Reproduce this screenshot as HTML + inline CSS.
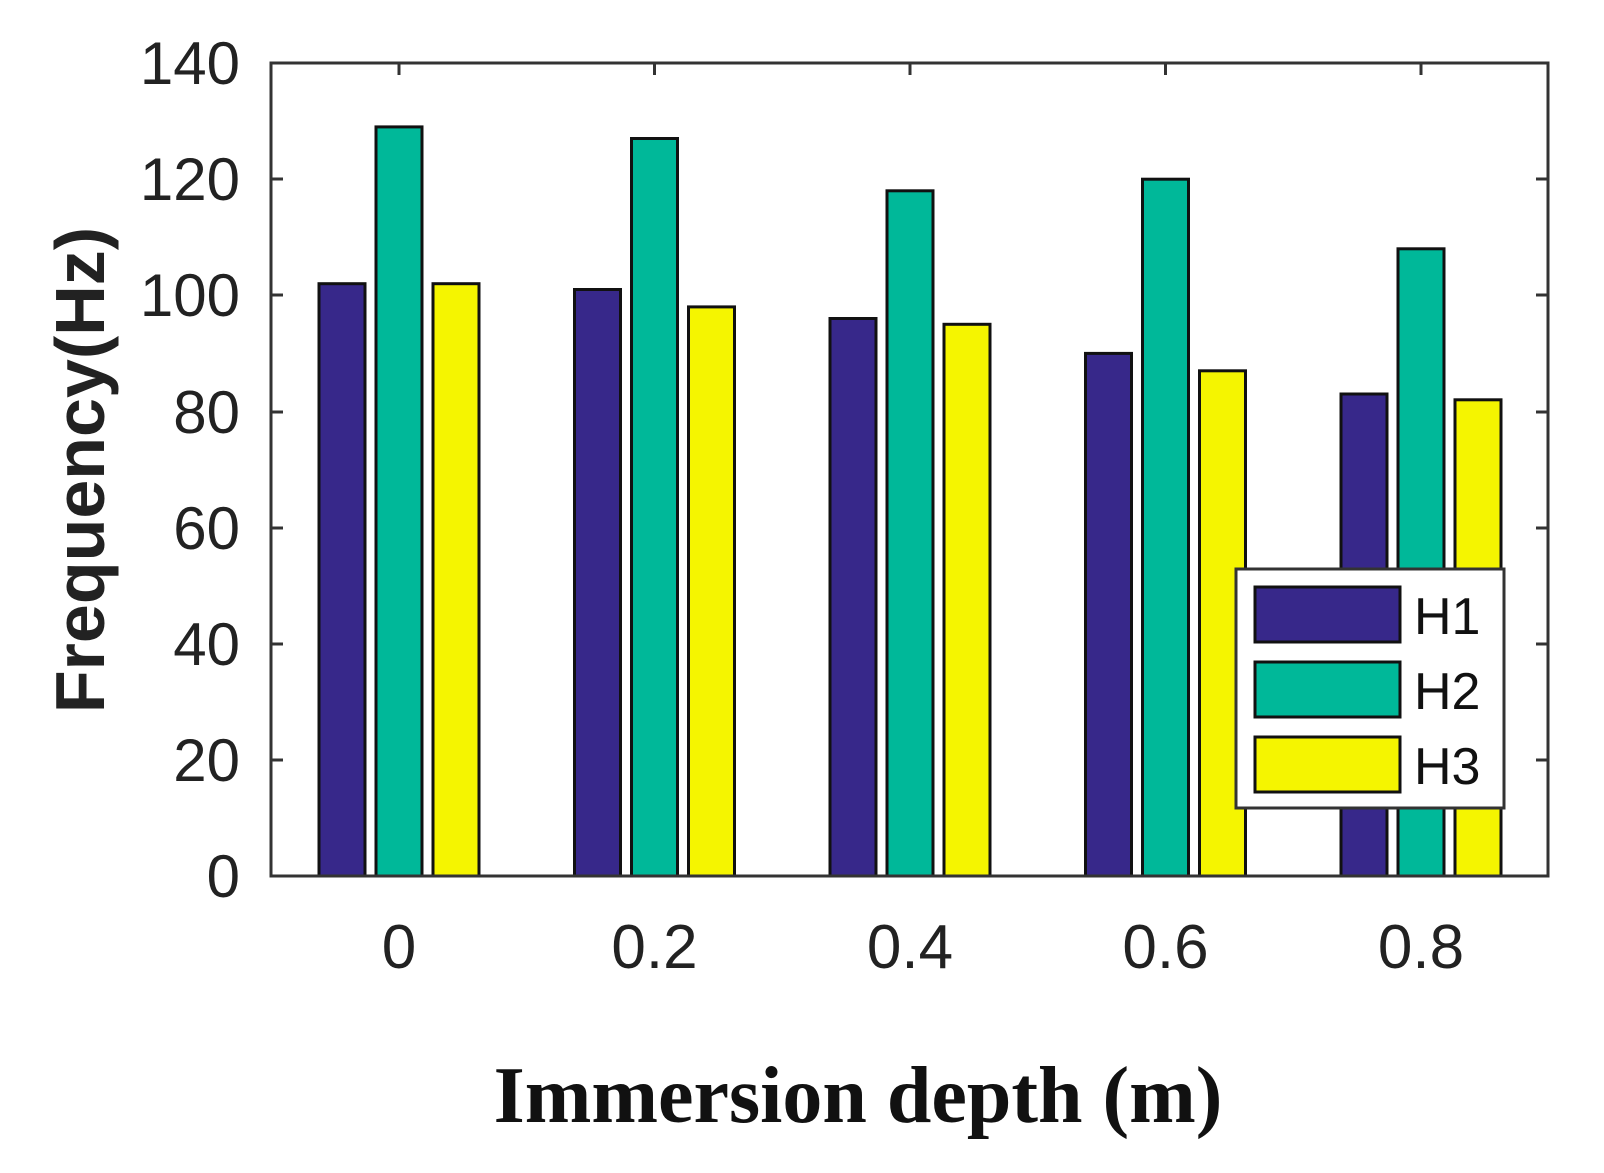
<!DOCTYPE html>
<html><head><style>body{margin:0;background:#fff}</style></head><body>
<svg width="1604" height="1168" xmlns="http://www.w3.org/2000/svg">
<rect width="1604" height="1168" fill="#fff"/>
<g stroke="#111" stroke-width="3">
<rect x="319" y="283.7" width="46" height="592.3" fill="#37288a"/>
<rect x="376" y="126.9" width="46" height="749.1" fill="#00b899"/>
<rect x="433" y="283.7" width="46" height="592.3" fill="#f5f500"/>
<rect x="574.5" y="289.5" width="46" height="586.5" fill="#37288a"/>
<rect x="631.5" y="138.5" width="46" height="737.5" fill="#00b899"/>
<rect x="688.5" y="306.9" width="46" height="569.1" fill="#f5f500"/>
<rect x="830" y="318.5" width="46" height="557.5" fill="#37288a"/>
<rect x="887" y="190.8" width="46" height="685.2" fill="#00b899"/>
<rect x="944" y="324.3" width="46" height="551.7" fill="#f5f500"/>
<rect x="1085.5" y="353.4" width="46" height="522.6" fill="#37288a"/>
<rect x="1142.5" y="179.2" width="46" height="696.8" fill="#00b899"/>
<rect x="1199.5" y="370.8" width="46" height="505.2" fill="#f5f500"/>
<rect x="1341" y="394" width="46" height="482" fill="#37288a"/>
<rect x="1398" y="248.8" width="46" height="627.2" fill="#00b899"/>
<rect x="1455" y="399.8" width="46" height="476.2" fill="#f5f500"/>
</g>
<g stroke="#333" stroke-width="3" fill="none">
<rect x="271" y="63" width="1277" height="813"/>
<path d="M271 760h12M271 644h12M271 528h12M271 412h12M271 295h12M271 179h12M1548 760h-12M1548 644h-12M1548 528h-12M1548 412h-12M1548 295h-12M1548 179h-12M399 63v12M654.5 63v12M910 63v12M1165.5 63v12M1421 63v12"/>
</g>
<g font-family="Liberation Sans, sans-serif" font-size="60" fill="#222" text-anchor="end">
<text x="240" y="897">0</text><text x="240" y="781">20</text><text x="240" y="665">40</text><text x="240" y="549">60</text><text x="240" y="433">80</text><text x="240" y="316">100</text><text x="240" y="200">120</text><text x="240" y="84">140</text>
</g>
<g font-family="Liberation Sans, sans-serif" font-size="62" fill="#222" text-anchor="middle">
<text x="399" y="968">0</text><text x="654.5" y="968">0.2</text><text x="910" y="968">0.4</text><text x="1165.5" y="968">0.6</text><text x="1421" y="968">0.8</text>
</g>
<text transform="translate(104,470) rotate(-90)" font-family="Liberation Sans, sans-serif" font-weight="bold" font-size="70" text-anchor="middle" fill="#222">Frequency(Hz)</text>
<text x="858" y="1122" font-family="Liberation Serif, serif" font-weight="bold" font-size="80" text-anchor="middle" fill="#111">Immersion depth (m)</text>
<rect x="1236" y="569" width="268" height="239" fill="#fff" stroke="#333" stroke-width="3"/>
<g stroke="#111" stroke-width="3">
<rect x="1255" y="587" width="145" height="55" fill="#37288a"/>
<rect x="1255" y="662" width="145" height="55" fill="#00b899"/>
<rect x="1255" y="737" width="145" height="55" fill="#f5f500"/>
</g>
<g font-family="Liberation Sans, sans-serif" font-size="52" fill="#111">
<text x="1414" y="634">H1</text><text x="1414" y="709">H2</text><text x="1414" y="784">H3</text>
</g>
</svg>
</body></html>
